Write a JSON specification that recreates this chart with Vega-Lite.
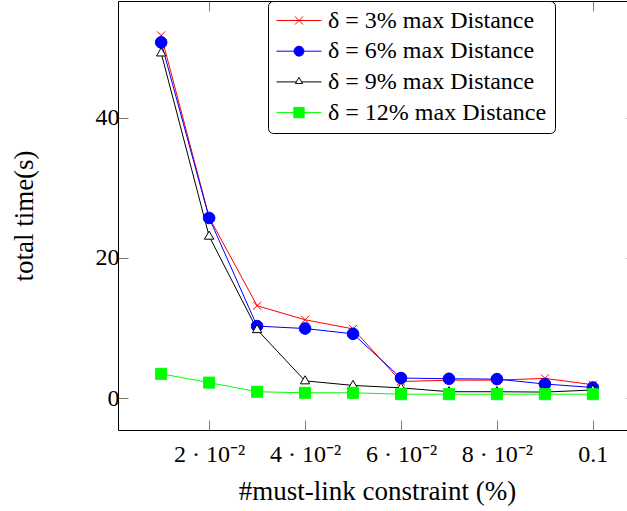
{
  "$schema": "https://vega.github.io/schema/vega-lite/v6.json",
  "autosize": {"type": "none"},
  "padding": {"left": 118, "top": 1, "right": 0, "bottom": 81},
  "width": 518,
  "height": 429,
  "background": "white",
  "config": {
    "view": {"stroke": "black", "strokeWidth": 1},
    "axis": {
      "labelFont": "Liberation Serif",
      "labelFontSize": 24,
      "labelColor": "black",
      "titleFont": "Liberation Serif",
      "titleFontSize": 27,
      "titleFontWeight": "normal",
      "titleColor": "black",
      "domain": false,
      "grid": false,
      "tickColor": "#555",
      "tickWidth": 0.8,
      "tickSize": -10,
      "labelOverlap": false,
      "labelFlush": false
    }
  },
  "data": {
    "values": [
      {"x": 0.01, "t": 51.7, "s": "δ = 3% max Distance"},
      {"x": 0.02, "t": 25.8, "s": "δ = 3% max Distance"},
      {"x": 0.03, "t": 13.2, "s": "δ = 3% max Distance"},
      {"x": 0.04, "t": 11.2, "s": "δ = 3% max Distance"},
      {"x": 0.05, "t": 9.9, "s": "δ = 3% max Distance"},
      {"x": 0.06, "t": 2.4, "s": "δ = 3% max Distance"},
      {"x": 0.07, "t": 2.6, "s": "δ = 3% max Distance"},
      {"x": 0.08, "t": 2.6, "s": "δ = 3% max Distance"},
      {"x": 0.09, "t": 2.85, "s": "δ = 3% max Distance"},
      {"x": 0.1, "t": 1.95, "s": "δ = 3% max Distance"},
      {"x": 0.01, "t": 50.7, "s": "δ = 6% max Distance"},
      {"x": 0.02, "t": 25.7, "s": "δ = 6% max Distance"},
      {"x": 0.03, "t": 10.3, "s": "δ = 6% max Distance"},
      {"x": 0.04, "t": 9.95, "s": "δ = 6% max Distance"},
      {"x": 0.05, "t": 9.2, "s": "δ = 6% max Distance"},
      {"x": 0.06, "t": 2.9, "s": "δ = 6% max Distance"},
      {"x": 0.07, "t": 2.8, "s": "δ = 6% max Distance"},
      {"x": 0.08, "t": 2.75, "s": "δ = 6% max Distance"},
      {"x": 0.09, "t": 2.05, "s": "δ = 6% max Distance"},
      {"x": 0.1, "t": 1.55, "s": "δ = 6% max Distance"},
      {"x": 0.01, "t": 49.2, "s": "δ = 9% max Distance"},
      {"x": 0.02, "t": 23.1, "s": "δ = 9% max Distance"},
      {"x": 0.03, "t": 9.8, "s": "δ = 9% max Distance"},
      {"x": 0.04, "t": 2.5, "s": "δ = 9% max Distance"},
      {"x": 0.05, "t": 1.85, "s": "δ = 9% max Distance"},
      {"x": 0.06, "t": 1.5, "s": "δ = 9% max Distance"},
      {"x": 0.07, "t": 0.95, "s": "δ = 9% max Distance"},
      {"x": 0.08, "t": 0.95, "s": "δ = 9% max Distance"},
      {"x": 0.09, "t": 0.9, "s": "δ = 9% max Distance"},
      {"x": 0.1, "t": 1.2, "s": "δ = 9% max Distance"},
      {"x": 0.01, "t": 3.5, "s": "δ = 12% max Distance"},
      {"x": 0.02, "t": 2.25, "s": "δ = 12% max Distance"},
      {"x": 0.03, "t": 0.95, "s": "δ = 12% max Distance"},
      {"x": 0.04, "t": 0.8, "s": "δ = 12% max Distance"},
      {"x": 0.05, "t": 0.8, "s": "δ = 12% max Distance"},
      {"x": 0.06, "t": 0.6, "s": "δ = 12% max Distance"},
      {"x": 0.07, "t": 0.6, "s": "δ = 12% max Distance"},
      {"x": 0.08, "t": 0.6, "s": "δ = 12% max Distance"},
      {"x": 0.09, "t": 0.6, "s": "δ = 12% max Distance"},
      {"x": 0.1, "t": 0.6, "s": "δ = 12% max Distance"}
    ]
  },
  "layer": [
    {
      "mark": {"type": "line", "strokeWidth": 1, "clip": true},
      "encoding": {
        "x": {
          "field": "x", "type": "quantitative",
          "scale": {"domain": [0.001, 0.109], "nice": false, "zero": false},
          "axis": {
            "orient": "bottom",
            "values": [0.02, 0.04, 0.06, 0.08, 0.1],
            "labelExpr": "datum.value > 0.095 ? '0.1' : round(datum.value * 100) + ' · 10⁻²'",
            "labelPadding": 22,
            "title": "#must-link constraint (%)",
            "titlePadding": 12
          }
        },
        "y": {
          "field": "t", "type": "quantitative",
          "scale": {"domain": [-4.5, 56.6], "nice": false, "zero": false},
          "axis": {
            "orient": "left",
            "values": [0, 20, 40],
            "labelPadding": 9,
            "title": "total time(s)",
            "titlePadding": 57
          }
        },
        "color": {
          "field": "s", "type": "nominal",
          "scale": {
            "domain": ["δ = 3% max Distance", "δ = 6% max Distance", "δ = 9% max Distance", "δ = 12% max Distance"],
            "range": ["#ff0000", "#0000ff", "#000000", "#00ff00"]
          },
          "legend": {
            "title": null,
            "orient": "none",
            "legendX": 150,
            "legendY": 0,
            "padding": 8,
            "fillColor": "white",
            "strokeColor": "black",
            "cornerRadius": 5,
            "labelFont": "Liberation Serif",
            "labelFontSize": 24,
            "labelColor": "black",
            "labelLimit": 0,
            "labelOffset": 6,
            "symbolSize": 2025,
            "symbolStrokeWidth": 1,
            "clipHeight": 23,
            "rowPadding": 5.7,
            "encode": {
              "symbols": {
                "update": {
                  "shape": {"signal": "datum.value == 'δ = 3% max Distance' ? 'M-1,0H1M-0.18,-0.18L0.18,0.18M-0.18,0.18L0.18,-0.18' : datum.value == 'δ = 6% max Distance' ? 'M-1,0H1M0.22,0A0.22,0.22,0,1,1,-0.22,0A0.22,0.22,0,1,1,0.22,0Z' : datum.value == 'δ = 9% max Distance' ? 'M-1,0H-0.118M0.118,0H1M0,-0.2L0.16,0.07L-0.16,0.07Z' : 'M-1,0H1M-0.23,-0.23H0.23V0.23H-0.23Z'"},
                  "fill": {"signal": "datum.value == 'δ = 3% max Distance' ? 'transparent' : datum.value == 'δ = 6% max Distance' ? '#0000ff' : datum.value == 'δ = 9% max Distance' ? 'white' : '#00ff00'"},
                  "stroke": {"signal": "datum.value == 'δ = 3% max Distance' ? '#ff0000' : datum.value == 'δ = 6% max Distance' ? '#0000ff' : datum.value == 'δ = 9% max Distance' ? '#000000' : '#00ff00'"},
                  "strokeWidth": {"value": 1},
                  "opacity": {"value": 1}
                }
              }
            }
          }
        }
      }
    },
    {
      "mark": {"type": "point", "size": 144, "strokeWidth": 1, "opacity": 1, "filled": false, "clip": true},
      "encoding": {
        "x": {
          "field": "x", "type": "quantitative",
          "axis": {"orient": "top", "values": [0.02, 0.04, 0.06, 0.08, 0.1], "labels": false, "title": null}
        },
        "y": {
          "field": "t", "type": "quantitative",
          "axis": {"orient": "right", "values": [0, 20, 40], "labels": false, "title": null}
        },
        "shape": {
          "condition": [
            {"test": "datum.s == 'δ = 3% max Distance'", "value": "M-0.67,-0.67L0.67,0.67M-0.67,0.67L0.67,-0.67"},
            {"test": "datum.s == 'δ = 6% max Distance'", "value": "M0.97,0A0.97,0.97,0,1,1,-0.97,0A0.97,0.97,0,1,1,0.97,0Z"},
            {"test": "datum.s == 'δ = 9% max Distance'", "value": "M0,-0.85L0.78,0.5L-0.78,0.5Z"}
          ],
          "value": "M-0.92,-0.92H0.92V0.92H-0.92Z"
        },
        "stroke": {
          "condition": [
            {"test": "datum.s == 'δ = 3% max Distance'", "value": "#ff0000"},
            {"test": "datum.s == 'δ = 6% max Distance'", "value": "#0000ff"},
            {"test": "datum.s == 'δ = 9% max Distance'", "value": "#000000"}
          ],
          "value": "#00ff00"
        },
        "fill": {
          "condition": [
            {"test": "datum.s == 'δ = 3% max Distance'", "value": "transparent"},
            {"test": "datum.s == 'δ = 6% max Distance'", "value": "#0000ff"},
            {"test": "datum.s == 'δ = 9% max Distance'", "value": "#ffffff"}
          ],
          "value": "#00ff00"
        }
      }
    }
  ],
  "resolve": {"axis": {"x": "independent", "y": "independent"}}
}
